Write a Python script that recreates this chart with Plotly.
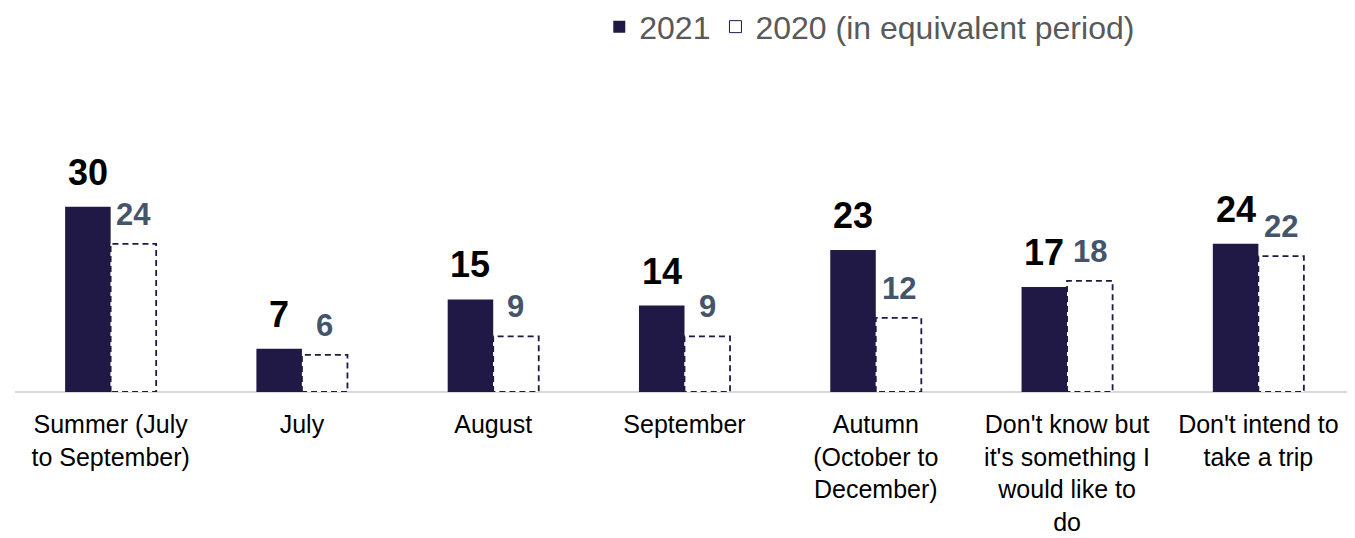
import plotly.graph_objects as go

categories = [
    "Summer (July<br>to September)",
    "July",
    "August",
    "September",
    "Autumn<br>(October to<br>December)",
    "Don't know but<br>it's something I<br>would like to<br>do",
    "Don't intend to<br>take a trip",
]
values_2021 = [30, 7, 15, 14, 23, 17, 24]
values_2020 = [24, 6, 9, 9, 12, 18, 22]
series_names = ["2021", "2020 (in equivalent period)"]

DARK = "#201945"
SLATE = "#44546a"
FONT = "Liberation Sans, Arial, sans-serif"
W = 0.238  # bar width in category units

idx = list(range(len(categories)))

fig = go.Figure()

fig.add_trace(go.Bar(
    x=idx, y=values_2021, width=W, offset=-W,
    marker=dict(color=DARK, line=dict(width=0)),
    name=series_names[0], showlegend=True, hoverinfo="skip",
))
fig.add_trace(go.Bar(
    x=idx, y=values_2020, width=W, offset=0,
    marker=dict(color="white", line=dict(width=0)),
    name=series_names[1], showlegend=False, hoverinfo="skip",
))
ox, oy = [], []
for i, v in zip(idx, values_2020):
    ox += [i, i, i + W, i + W, i, None]
    oy += [0, v, v, 0, 0, None]
fig.add_trace(go.Scatter(
    x=ox, y=oy, mode="lines",
    line=dict(color=DARK, width=1.8, dash="6px,4px"),
    showlegend=False, hoverinfo="skip",
))
fig.add_trace(go.Bar(
    x=[None], y=[None],
    marker=dict(color="white", line=dict(color=DARK, width=1)),
    name=series_names[1], showlegend=True,
))

for i, v in zip(idx, values_2021):
    fig.add_annotation(x=i - W / 2, y=v, text=f"<b>{v}</b>", showarrow=False,
                       yanchor="bottom", xanchor="center", yshift=12,
                       font=dict(family=FONT, size=36, color="#000000"))
for i, v in zip(idx, values_2020):
    fig.add_annotation(x=i + W / 2, y=v, text=f"<b>{v}</b>", showarrow=False,
                       yanchor="bottom", xanchor="center", yshift=10,
                       font=dict(family=FONT, size=31, color=SLATE))

fig.update_layout(
    width=1355, height=538,
    margin=dict(l=7, r=9, t=137, b=154, autoexpand=False),
    paper_bgcolor="white", plot_bgcolor="white",
    barmode="overlay",
    font=dict(family=FONT, color="#000000"),
    legend=dict(
        orientation="h", xref="container", yref="container",
        x=0.636, y=0.965, xanchor="center", yanchor="middle",
        font=dict(family=FONT, size=32, color="#595959"),
        itemwidth=30, traceorder="normal",
    ),
    xaxis=dict(
        range=[-0.5, len(categories) - 0.5],
        tickmode="array", tickvals=idx, ticktext=categories,
        showgrid=False, zeroline=False, showline=False,
        ticks="", ticklabelstandoff=15, automargin=False,
        tickfont=dict(family=FONT, size=25, color="#000000"),
        fixedrange=True,
    ),
    yaxis=dict(
        range=[0, 40], visible=True, showticklabels=False, showgrid=False,
        zeroline=True, zerolinecolor="#d9d9d9", zerolinewidth=2,
        showline=False, ticks="", fixedrange=True, automargin=False,
    ),
)

fig.write_html("out.html")
